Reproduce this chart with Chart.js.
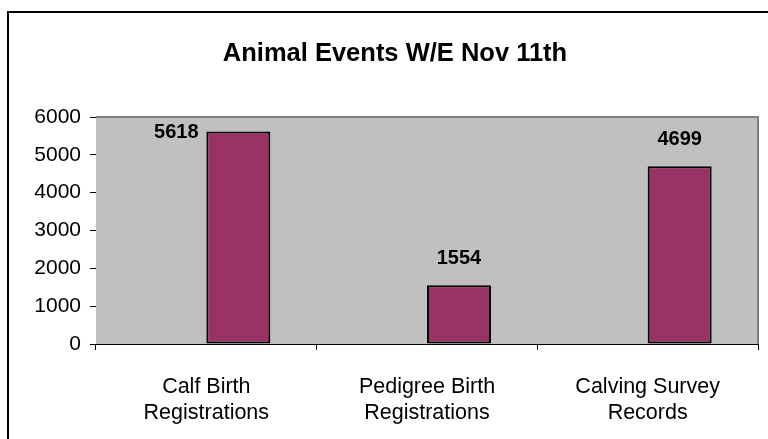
<!DOCTYPE html>
<html>
<head>
<meta charset="utf-8">
<script src="https://cdn.jsdelivr.net/npm/chart.js@4.4.0/dist/chart.umd.min.js"></script>
<style>
  html, body { margin: 0; padding: 0; background: #fff; overflow: hidden; width: 768px; height: 439px; }
  #frame { position: absolute; left: 7px; top: 11px; width: 780px; height: 450px; border: 2px solid #000; }
</style>
</head>
<body>
<div id="frame"><canvas id="events" width="780" height="450"></canvas></div>
<script>
// categories and counts
let categories = [['Calf Birth', 'Registrations'], ['Pedigree Birth', 'Registrations'], ['Calving Survey', 'Records']];
let eventCounts = [5618, 1554, 4699];
let emptySeries = [null, null, null]; // blank first series, as in the original sheet
let yTicks = [0, 1000, 2000, 3000, 4000, 5000, 6000];

const FONT = '"Liberation Sans", Arial, sans-serif';

// grey plot area like excel
const plotBg = {
  id: 'plotBg',
  beforeDatasetsDraw(chart) {
    const { ctx, chartArea: a } = chart;
    ctx.save();
    ctx.fillStyle = '#c0c0c0';
    ctx.fillRect(a.left, a.top, a.right - a.left, a.bottom - a.top);
    ctx.restore();
  },
  afterDraw(chart) {
    const { ctx, chartArea: a } = chart;
    ctx.save();
    ctx.strokeStyle = '#808080';
    ctx.lineWidth = 2;
    ctx.beginPath();
    ctx.moveTo(a.left, a.top);
    ctx.lineTo(a.right, a.top);
    ctx.lineTo(a.right, a.bottom);
    ctx.stroke();
    ctx.restore();
  }
};

// value labels above the bars
const valueLabels = {
  id: 'valueLabels',
  afterDraw(chart) {
    const { ctx, chartArea } = chart;
    const meta = chart.getDatasetMeta(1);
    ctx.save();
    ctx.font = 'bold 20px ' + FONT;
    ctx.fillStyle = '#000';
    ctx.textAlign = 'center';
    meta.data.forEach((bar, i) => {
      const txt = String(eventCounts[i]);
      if (bar.y - 42 < chartArea.top) {
        // no room on top, put it beside the bar
        ctx.textBaseline = 'middle';
        ctx.fillText(txt, bar.x - bar.width + 2, bar.y + 1);
      } else {
        ctx.textBaseline = 'bottom';
        ctx.fillText(txt, bar.x, bar.y - 17);
      }
    });
    ctx.restore();
  }
};

new Chart(document.getElementById('events'), {
  type: 'bar',
  data: {
    labels: categories,
    datasets: [
      { data: emptySeries, backgroundColor: 'transparent' },
      {
        data: eventCounts,
        backgroundColor: '#993366',
        borderColor: '#000',
        borderWidth: 2,
        borderSkipped: false
      }
    ]
  },
  options: {
    responsive: false,
    animation: false,
    categoryPercentage: 0.58,
    barPercentage: 1,
    layout: { padding: { left: 0, right: 8, top: 0, bottom: 19 } },
    plugins: {
      legend: { display: false },
      tooltip: { enabled: false },
      title: {
        display: true,
        text: 'Animal Events W/E Nov 11th',
        color: '#000',
        font: { family: FONT, size: 25.5, weight: 'bold' },
        padding: { top: 26, bottom: 47.4 }
      }
    },
    scales: {
      x: {
        afterFit(s) { s.height = 100; },
        grid: { offset: true, drawOnChartArea: false, drawTicks: true, tickLength: 6, color: '#000' },
        border: { color: '#000', width: 1 },
        ticks: {
          color: '#000',
          padding: 24,
          maxRotation: 0,
          font: { family: FONT, size: 21.5 }
        }
      },
      y: {
        min: 0,
        max: 6000,
        afterFit(s) { s.width = 87; },
        afterBuildTicks(s) { s.ticks = yTicks.map(v => ({ value: v })); },
        grid: { color: '#000', tickLength: 6 },
        border: { color: '#000', width: 1 },
        ticks: {
          color: '#000',
          padding: 9,
          callback: v => String(v),
          font: { family: FONT, size: 21 }
        }
      },
      // empty right margin so the title sits centred like the original
      yPad: {
        position: 'right',
        display: true,
        afterFit(s) { s.width = 23; },
        grid: { display: false },
        border: { display: false },
        ticks: { display: false }
      }
    }
  },
  plugins: [plotBg, valueLabels]
});
</script>
</body>
</html>
